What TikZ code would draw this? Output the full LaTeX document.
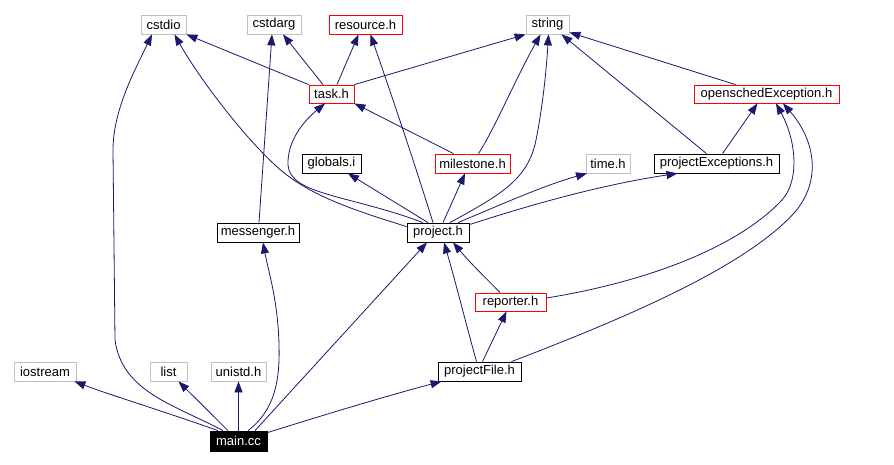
\documentclass[tikz,border=0pt]{standalone}
\usepackage{fontspec}
\setmainfont{Liberation Sans}
\usetikzlibrary{arrows.meta}
\definecolor{edgeblue}{RGB}{25,25,112}
\definecolor{boxgray}{RGB}{191,191,191}
\tikzset{
  box/.style={draw, line width=0.8pt, minimum height=19pt, inner sep=0pt, font=\fontsize{13}{15}\selectfont},
  gbox/.style={box, draw=boxgray},
  rbox/.style={box, draw=red},
  kbox/.style={box, draw=black},
  e/.style={draw=edgeblue, line width=0.8pt, -{Triangle[length=11pt,width=8pt]}}
}
\begin{document}
\begin{tikzpicture}[x=1pt, y=-1pt]
\useasboundingbox[fill=white] (0,0) rectangle (894,465);
% nodes
\node[gbox, minimum width=45pt] (cstdio) at (163.5,24.5) {cstdio};
\node[gbox, minimum width=54pt] (cstdarg) at (274,24.5) {cstdarg};
\node[rbox, minimum width=73pt] (resource) at (365.5,24.5) {resource.h};
\node[gbox, minimum width=43pt] (string) at (547.5,24.5) {string};
\node[rbox, minimum width=45pt, minimum height=18pt] (task) at (331.5,94) {task.h};
\node[rbox, minimum width=145pt, minimum height=18pt] (opensched) at (766.5,94) {openschedException.h};
\node[kbox, minimum width=59pt] (globals) at (331.5,163.5) {globals.i};
\node[rbox, minimum width=75pt] (milestone) at (472.5,163.5) {milestone.h};
\node[gbox, minimum width=44pt] (time) at (608,163.5) {time.h};
\node[kbox, minimum width=125pt] (projexc) at (716.5,163.5) {projectExceptions.h};
\node[kbox, minimum width=82pt] (messenger) at (258,232.5) {messenger.h};
\node[kbox, minimum width=62pt] (project) at (438,232.5) {project.h};
\node[rbox, minimum width=71pt, minimum height=18pt] (reporter) at (510.5,302) {reporter.h};
\node[gbox, minimum width=62pt] (iostream) at (45,371.5) {iostream};
\node[gbox, minimum width=37pt] (list) at (168.5,371.5) {list};
\node[gbox, minimum width=55pt] (unistd) at (238.5,371.5) {unistd.h};
\node[kbox, minimum width=83pt] (projectfile) at (479.5,371.5) {projectFile.h};
\node[kbox, fill=black, text=white, minimum width=57pt, minimum height=20pt] (main) at (238.5,441) {main.cc};
% edges from main.cc
\draw[e] ([xshift=-20.5pt]main.north) .. controls (160,410) and (110,395) .. ([xshift=-2pt]iostream.south east);
\draw[e] ([xshift=-10.5pt]main.north) -- ([xshift=10pt]list.south);
\draw[e] (main.north) -- (unistd.south);
\draw[e] ([xshift=-15.5pt]main.north) .. controls (175,405) and (122,392) .. (115,340) -- (113,150) .. controls (113,110) and (135,70) .. ([xshift=-11.5pt]cstdio.south);
\draw[e] ([xshift=9.5pt]main.north) .. controls (275,410) and (280,380) .. (279,345) .. controls (278,300) and (268,270) .. ([xshift=5pt]messenger.south);
\draw[e] ([xshift=16.5pt]main.north) -- ([xshift=-11pt]project.south);
\draw[e] ([yshift=-2pt]main.north east) .. controls (330,413) and (390,395) .. ([xshift=4pt]projectfile.south west);
% messenger
\draw[e] ([xshift=1pt]messenger.north) -- ([xshift=-2pt]cstdarg.south);
% task
\draw[e] (task.north west) -- (cstdio.south east);
\draw[e] ([xshift=-8.5pt]task.north) -- ([xshift=9pt]cstdarg.south);
\draw[e] ([xshift=5.5pt]task.north) -- ([xshift=-7pt]resource.south);
\draw[e] (task.north east) -- (string.south west);
% project
\draw[e] ([yshift=-4pt]project.north west) .. controls (360,212) and (315,198) .. (283,172) .. controls (250,145) and (200,80) .. ([xshift=11pt]cstdio.south);
\draw[e] ([xshift=-15pt]project.north) .. controls (350,195) and (290,195) .. (288,165) .. controls (287,140) and (305,120) .. ([xshift=-6.5pt]task.south);
\draw[e] ([xshift=-5pt]project.north) .. controls (412,155) and (388,85) .. ([xshift=5pt]resource.south);
\draw[e] ([xshift=-10pt]project.north) -- ([xshift=16.5pt]globals.south);
\draw[e] ([xshift=5pt]project.north) -- ([xshift=-7.5pt]milestone.south);
\draw[e] ([xshift=12pt]project.north) .. controls (500,195) and (528,180) .. (536,140) .. controls (544,100) and (547,60) .. ([xshift=1pt]string.south);
\draw[e] ([xshift=20pt]project.north) .. controls (500,205) and (545,185) .. ([xshift=-21pt]time.south);
\draw[e] ([yshift=-2pt]project.north east) .. controls (530,205) and (600,185) .. ([xshift=-39pt]projexc.south);
% milestone
\draw[e] ([xshift=-19pt]milestone.north) -- (task.south east);
\draw[e] ([xshift=6pt]milestone.north) .. controls (495,128) and (515,80) .. ([xshift=-7pt]string.south);
% projectExceptions
\draw[e] ([xshift=-10pt]projexc.north) -- ([xshift=14pt]string.south);
\draw[e] ([xshift=6pt]projexc.north) -- ([xshift=-9pt]opensched.south);
% openschedException
\draw[e] ([xshift=-31pt]opensched.north) -- ([yshift=2pt]string.south east);
% reporter
\draw[e] ([xshift=-10.5pt]reporter.north) .. controls (488,280) and (472,265) .. ([xshift=15pt]project.south);
\draw[e] ([yshift=4pt]reporter.east) .. controls (640,283) and (735,250) .. (782,200) .. controls (800,180) and (796,140) .. ([xshift=9.5pt]opensched.south);
% projectFile
\draw[e] ([xshift=-3pt]projectfile.north) .. controls (465,320) and (455,280) .. ([xshift=6pt]project.south);
\draw[e] ([xshift=3pt]projectfile.north) -- ([xshift=-4pt]reporter.south);
\draw[e] ([xshift=32pt]projectfile.north) .. controls (620,320) and (745,268) .. (795,212) .. controls (822,180) and (815,140) .. ([xshift=16.5pt]opensched.south);
\end{tikzpicture}
\end{document}
